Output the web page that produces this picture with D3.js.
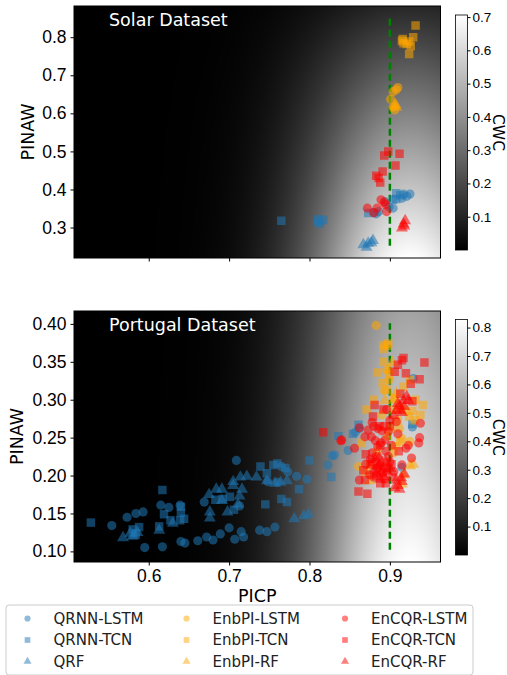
<!DOCTYPE html>
<html>
<head>
<meta charset="utf-8">
<script src="https://cdn.jsdelivr.net/npm/d3@7"></script>
<style>
  body { margin: 0; background: #fff; }
  svg { font-family: "DejaVu Sans", sans-serif; display: block; }
</style>
</head>
<body>
<svg id="chart" width="507" height="675"></svg>
<script>
'use strict';

// Solar dataset: [PICP, PINAW]
const solarQrnnLstm = [[0.925,0.388],[0.917,0.388],[0.915,0.377],[0.921,0.382],[0.904,0.351],[0.899,0.354],[0.894,0.368],[0.883,0.336],[0.880,0.339],[0.886,0.342]];
const solarQrnnTcn = [[0.765,0.318],[0.811,0.322],[0.817,0.320],[0.813,0.310],[0.810,0.315],[0.908,0.390],[0.904,0.373],[0.873,0.338],[0.908,0.375],[0.913,0.385]];
const solarQrf = [[0.867,0.257],[0.873,0.261],[0.879,0.268],[0.871,0.250],[0.877,0.262]];
const solarEnbpiLstm = [[0.910,0.668],[0.904,0.657],[0.901,0.637],[0.906,0.609],[0.904,0.616],[0.908,0.662]];
const solarEnbpiTcn = [[0.932,0.831],[0.916,0.795],[0.929,0.800],[0.924,0.756],[0.921,0.782],[0.917,0.784],[0.926,0.777],[0.915,0.790],[0.924,0.789]];
const solarEnbpiRf = [[0.907,0.625],[0.908,0.618],[0.906,0.622]];
const solarEncqrLstm = [[0.872,0.351],[0.884,0.351],[0.889,0.373],[0.896,0.342],[0.895,0.360],[0.880,0.339],[0.893,0.366]];
const solarEncqrTcn = [[0.912,0.494],[0.898,0.500],[0.893,0.489],[0.907,0.463],[0.891,0.447],[0.883,0.436],[0.888,0.418],[0.886,0.430]];
const solarEncqrRf = [[0.917,0.311],[0.919,0.320],[0.915,0.301],[0.918,0.306]];

// Portugal dataset: [PICP, PINAW]
const portQrnnLstm = [[0.554,0.134],[0.573,0.145],[0.584,0.150],[0.593,0.152],[0.595,0.105],[0.617,0.106],[0.615,0.161],[0.625,0.158],[0.639,0.161],[0.640,0.113],[0.645,0.111],[0.661,0.114],[0.672,0.119],[0.680,0.115],[0.689,0.123],[0.700,0.131],[0.707,0.116],[0.715,0.126],[0.718,0.119],[0.738,0.128],[0.747,0.126],[0.757,0.132],[0.709,0.220],[0.669,0.165],[0.713,0.160],[0.797,0.195],[0.823,0.214],[0.828,0.226],[0.748,0.192],[0.760,0.191],[0.784,0.199],[0.831,0.227],[0.848,0.233],[0.857,0.257],[0.915,0.211],[0.928,0.264],[0.929,0.328],[0.862,0.262],[0.773,0.205],[0.765,0.212]];
const portQrnnTcn = [[0.528,0.138],[0.617,0.181],[0.613,0.133],[0.588,0.132],[0.580,0.129],[0.619,0.149],[0.627,0.141],[0.640,0.159],[0.640,0.151],[0.644,0.143],[0.639,0.141],[0.683,0.168],[0.692,0.169],[0.701,0.172],[0.706,0.155],[0.745,0.162],[0.765,0.169],[0.772,0.165],[0.787,0.182],[0.800,0.220],[0.739,0.212],[0.747,0.203],[0.755,0.214],[0.827,0.198],[0.836,0.252],[0.861,0.267],[0.854,0.255],[0.928,0.268],[0.760,0.216],[0.770,0.210],[0.584,0.124]];
const portQrf = [[0.568,0.119],[0.577,0.125],[0.582,0.122],[0.586,0.126],[0.613,0.129],[0.630,0.138],[0.676,0.145],[0.676,0.153],[0.675,0.176],[0.684,0.183],[0.691,0.183],[0.691,0.168],[0.698,0.153],[0.705,0.188],[0.705,0.193],[0.711,0.163],[0.713,0.174],[0.716,0.183],[0.714,0.199],[0.722,0.200],[0.734,0.199],[0.747,0.194],[0.757,0.191],[0.764,0.192],[0.772,0.194],[0.781,0.144],[0.793,0.148],[0.799,0.150],[0.580,0.121]];
const portEnbpiLstm = [[0.883,0.398],[0.896,0.339],[0.893,0.312],[0.925,0.245],[0.915,0.249],[0.875,0.214],[0.861,0.212],[0.870,0.204],[0.899,0.326],[0.906,0.300],[0.890,0.280],[0.912,0.262],[0.897,0.252],[0.884,0.232],[0.905,0.230],[0.920,0.285]];
const portEnbpiTcn = [[0.892,0.372],[0.898,0.374],[0.892,0.367],[0.897,0.371],[0.892,0.350],[0.885,0.336],[0.899,0.333],[0.891,0.322],[0.871,0.287],[0.904,0.287],[0.924,0.278],[0.931,0.273],[0.941,0.293],[0.938,0.280],[0.915,0.289],[0.910,0.273],[0.865,0.243],[0.908,0.239],[0.905,0.302],[0.896,0.313],[0.917,0.317],[0.925,0.326],[0.932,0.300],[0.880,0.300],[0.928,0.285],[0.901,0.262],[0.913,0.245]];
const portEnbpiRf = [[0.899,0.341],[0.929,0.216],[0.925,0.214],[0.917,0.202],[0.915,0.190],[0.875,0.194],[0.903,0.350],[0.894,0.300],[0.908,0.310]];
const portEncqrLstm = [[0.840,0.247],[0.856,0.236],[0.862,0.263],[0.873,0.260],[0.894,0.247],[0.900,0.273],[0.908,0.271],[0.923,0.240],[0.936,0.243],[0.927,0.223],[0.915,0.214],[0.862,0.194],[0.875,0.201],[0.888,0.214],[0.883,0.225],[0.885,0.238],[0.877,0.251],[0.869,0.251],[0.896,0.287],[0.839,0.246],[0.938,0.269],[0.937,0.250],[0.880,0.265],[0.890,0.259],[0.898,0.225],[0.905,0.205],[0.893,0.195],[0.878,0.230],[0.910,0.255],[0.878,0.270],[0.885,0.262],[0.892,0.265],[0.898,0.258],[0.882,0.246],[0.889,0.243],[0.902,0.240],[0.876,0.222],[0.884,0.210],[0.892,0.204],[0.900,0.218],[0.880,0.198],[0.870,0.215],[0.895,0.232],[0.920,0.236]];
const portEncqrTcn = [[0.917,0.355],[0.943,0.349],[0.910,0.346],[0.920,0.335],[0.937,0.327],[0.926,0.321],[0.928,0.298],[0.913,0.308],[0.906,0.337],[0.881,0.293],[0.892,0.287],[0.879,0.278],[0.867,0.207],[0.869,0.194],[0.861,0.179],[0.872,0.176],[0.888,0.190],[0.903,0.198],[0.878,0.218],[0.817,0.257],[0.915,0.352],[0.900,0.265],[0.888,0.240],[0.911,0.232],[0.876,0.215],[0.883,0.200],[0.895,0.190],[0.870,0.228],[0.887,0.265],[0.902,0.215]];
const portEncqrRf = [[0.906,0.185],[0.910,0.188],[0.915,0.193],[0.908,0.287],[0.912,0.293],[0.917,0.300],[0.921,0.305],[0.913,0.287],[0.885,0.213],[0.889,0.205],[0.892,0.210],[0.880,0.208],[0.895,0.218],[0.887,0.225],[0.905,0.280],[0.898,0.212],[0.890,0.218],[0.893,0.200],[0.884,0.203],[0.896,0.207],[0.888,0.196],[0.901,0.210],[0.910,0.296],[0.915,0.284],[0.918,0.292],[0.923,0.300],[0.914,0.198],[0.918,0.203],[0.912,0.183],[0.908,0.195],[0.887,0.215],[0.882,0.222]];

const seriesNames = ['QRNN-LSTM', 'QRNN-TCN', 'QRF', 'EnbPI-LSTM', 'EnbPI-TCN', 'EnbPI-RF', 'EnCQR-LSTM', 'EnCQR-TCN', 'EnCQR-RF'];
const seriesColors = ['#1f77b4', '#1f77b4', '#1f77b4', 'orange', 'orange', 'orange', 'red', 'red', 'red'];
const seriesShapes = ['circle', 'square', 'triangle', 'circle', 'square', 'triangle', 'circle', 'square', 'triangle'];

const solarSeries = [solarQrnnLstm, solarQrnnTcn, solarQrf, solarEnbpiLstm, solarEnbpiTcn, solarEnbpiRf, solarEncqrLstm, solarEncqrTcn, solarEncqrRf];
const portSeries = [portQrnnLstm, portQrnnTcn, portQrf, portEnbpiLstm, portEnbpiTcn, portEnbpiRf, portEncqrLstm, portEncqrTcn, portEncqrRf];

const picpDomain = [0.507, 0.963];
const xTicks = [0.6, 0.7, 0.8, 0.9];
const solarYDomain = [0.220, 0.882];
const solarYTicks = [0.3, 0.4, 0.5, 0.6, 0.7, 0.8];
const portYDomain = [0.086, 0.417];
const portYTicks = [0.10, 0.15, 0.20, 0.25, 0.30, 0.35, 0.40];
const solarCbarTicks = [0.1, 0.2, 0.3, 0.4, 0.5, 0.6, 0.7];
const portCbarTicks = [0.1, 0.2, 0.3, 0.4, 0.5, 0.6, 0.7, 0.8];
const targetCoverage = 0.9;

// CWC surface parameters
const cwcScale = 0.907;
const cwcMu = 0.925;
const cwcEta = 62;

function cwc(picp, pinaw) {
    return cwcScale * (1 - pinaw) * Math.exp(-cwcEta * (picp - cwcMu) * (picp - cwcMu));
}

const svg = d3.select('#chart');
const left = 74, right = 440.5;

const symbolTypes = {
    circle: d3.symbolCircle,
    square: d3.symbolSquare,
    triangle: d3.symbolTriangle
};
const symbolSizes = { circle: 66, square: 72, triangle: 62 };

drawPanel({
    top: 6, bottom: 258,
    yDomain: solarYDomain, yTicks: solarYTicks, yFormat: d3.format('.1f'),
    series: solarSeries, title: 'Solar Dataset', showXLabels: false,
    lineRange: [0.252, 0.849], cbarTicks: solarCbarTicks,
    cbarTop: 15, cbarBottom: 250, ylabelX: 28
});

drawPanel({
    top: 311, bottom: 562,
    yDomain: portYDomain, yTicks: portYTicks, yFormat: d3.format('.2f'),
    series: portSeries, title: 'Portugal Dataset', showXLabels: true,
    lineRange: [0.102, 0.401], cbarTicks: portCbarTicks,
    cbarTop: 319.5, cbarBottom: 555, ylabelX: 17
});

drawLegend();

function drawPanel(opt) {
    const x = d3.scaleLinear().domain(picpDomain).range([left, right]);
    const y = d3.scaleLinear().domain(opt.yDomain).range([opt.bottom, opt.top]);
    const w = Math.round(right - left), h = Math.round(opt.bottom - opt.top);

    // background CWC field
    const canvas = document.createElement('canvas');
    canvas.width = w;
    canvas.height = h;
    const ctx = canvas.getContext('2d');
    const img = ctx.createImageData(w, h);
    let vmax = 0;
    const vals = new Float32Array(w * h);
    for (let j = 0; j < h; j++) {
        const pinaw = y.invert(opt.top + j + 0.5);
        for (let i = 0; i < w; i++) {
            const v = cwc(x.invert(left + i + 0.5), pinaw);
            vals[j * w + i] = v;
            if (v > vmax) vmax = v;
        }
    }
    const gray = d3.scaleLinear().domain([0, vmax]).range([0, 255]).clamp(true);
    for (let k = 0; k < vals.length; k++) {
        const g = Math.round(gray(vals[k]));
        img.data[k * 4] = g;
        img.data[k * 4 + 1] = g;
        img.data[k * 4 + 2] = g;
        img.data[k * 4 + 3] = 255;
    }
    ctx.putImageData(img, 0, 0);

    svg.append('image')
        .attr('x', left).attr('y', opt.top)
        .attr('width', right - left).attr('height', opt.bottom - opt.top)
        .attr('preserveAspectRatio', 'none')
        .attr('href', canvas.toDataURL());

    const clipId = 'clip' + opt.top;
    svg.append('clipPath').attr('id', clipId)
        .append('rect')
        .attr('x', left).attr('y', opt.top)
        .attr('width', right - left).attr('height', opt.bottom - opt.top);

    const plot = svg.append('g').attr('clip-path', `url(#${clipId})`);

    // target coverage line
    plot.append('line')
        .attr('x1', x(targetCoverage)).attr('x2', x(targetCoverage))
        .attr('y1', y(opt.lineRange[0])).attr('y2', y(opt.lineRange[1]))
        .attr('stroke', 'green')
        .attr('stroke-width', 2.5)
        .attr('stroke-dasharray', '7,4');

    opt.series.forEach((points, s) => {
        const shape = seriesShapes[s];
        const sym = d3.symbol().type(symbolTypes[shape]).size(symbolSizes[shape]);
        plot.append('g')
            .selectAll('path')
            .data(points)
            .join('path')
            .attr('d', sym)
            .attr('transform', d => `translate(${x(d[0])},${y(d[1]) + (shape === 'triangle' ? 0.8 : 0)})`)
            .attr('fill', seriesColors[s])
            .attr('fill-opacity', 0.55);
    });

    // frame
    svg.append('rect')
        .attr('x', left).attr('y', opt.top)
        .attr('width', right - left).attr('height', opt.bottom - opt.top)
        .attr('fill', 'none').attr('stroke', '#000').attr('stroke-width', 1);

    const xAxis = svg.append('g')
        .attr('transform', `translate(0,${opt.bottom})`)
        .call(d3.axisBottom(x).tickValues(xTicks).tickSize(3.5).tickPadding(4)
            .tickFormat(opt.showXLabels ? d3.format('.1f') : ''));
    xAxis.select('.domain').remove();
    xAxis.selectAll('text').attr('font-size', 17.5).attr('fill', '#000');

    const yAxis = svg.append('g')
        .attr('transform', `translate(${left},0)`)
        .call(d3.axisLeft(y).tickValues(opt.yTicks).tickSize(3.5).tickPadding(4).tickFormat(opt.yFormat));
    yAxis.select('.domain').remove();
    yAxis.selectAll('text').attr('font-size', 17.5).attr('fill', '#000');

    svg.append('text')
        .attr('transform', `translate(${opt.ylabelX},${(opt.top + opt.bottom) / 2}) rotate(-90)`)
        .attr('text-anchor', 'middle')
        .attr('dy', '0.35em')
        .attr('font-size', 17.5)
        .text('PINAW');

    if (opt.showXLabels) {
        svg.append('text')
            .attr('x', (left + right) / 2)
            .attr('y', opt.bottom + 40)
            .attr('text-anchor', 'middle')
            .attr('font-size', 17.5)
            .text('PICP');
    }

    svg.append('text')
        .attr('x', 109)
        .attr('y', opt.top + 20)
        .attr('fill', '#fff')
        .attr('font-size', 17.5)
        .text(opt.title);

    // colorbar
    const cbarLeft = 455.5, cbarWidth = 12;
    const gradId = 'grad' + opt.top;
    const grad = svg.append('defs').append('linearGradient')
        .attr('id', gradId)
        .attr('x1', 0).attr('y1', 1).attr('x2', 0).attr('y2', 0);
    grad.append('stop').attr('offset', 0).attr('stop-color', '#000');
    grad.append('stop').attr('offset', 1).attr('stop-color', '#fff');

    svg.append('rect')
        .attr('x', cbarLeft).attr('y', opt.cbarTop)
        .attr('width', cbarWidth).attr('height', opt.cbarBottom - opt.cbarTop)
        .attr('fill', `url(#${gradId})`)
        .attr('stroke', '#000').attr('stroke-width', 0.8);

    const c = d3.scaleLinear().domain([0, vmax]).range([opt.cbarBottom, opt.cbarTop]);
    const cAxis = svg.append('g')
        .attr('transform', `translate(${cbarLeft + cbarWidth},0)`)
        .call(d3.axisRight(c).tickValues(opt.cbarTicks).tickSize(3).tickPadding(2).tickFormat(d3.format('.1f')));
    cAxis.select('.domain').remove();
    cAxis.selectAll('text').attr('font-size', 13.5).attr('fill', '#000');

    svg.append('text')
        .attr('transform', `translate(498,${(opt.cbarTop + opt.cbarBottom) / 2}) rotate(90)`)
        .attr('text-anchor', 'middle')
        .attr('dy', '0.35em')
        .attr('font-size', 15.5)
        .text('CWC');
}

function drawLegend() {
    const g = svg.append('g');
    g.append('rect')
        .attr('x', 6).attr('y', 605)
        .attr('width', 467).attr('height', 70)
        .attr('rx', 3)
        .attr('fill', '#fff')
        .attr('stroke', '#ccc').attr('stroke-width', 1);

    const colX = [27.5, 186.5, 345];
    const rowY = [618.5, 640, 661.5];

    seriesNames.forEach((name, i) => {
        const col = Math.floor(i / 3), row = i % 3;
        const shape = seriesShapes[i];
        const sym = d3.symbol().type(symbolTypes[shape]).size(symbolSizes[shape] * 0.45);
        g.append('path')
            .attr('d', sym)
            .attr('transform', `translate(${colX[col]},${rowY[row]})`)
            .attr('fill', seriesColors[i])
            .attr('fill-opacity', 0.5);
        g.append('text')
            .attr('x', colX[col] + 26)
            .attr('y', rowY[row])
            .attr('dy', '0.35em')
            .attr('font-size', 15)
            .attr('fill', '#222')
            .text(name);
    });
}
</script>
</body>
</html>
